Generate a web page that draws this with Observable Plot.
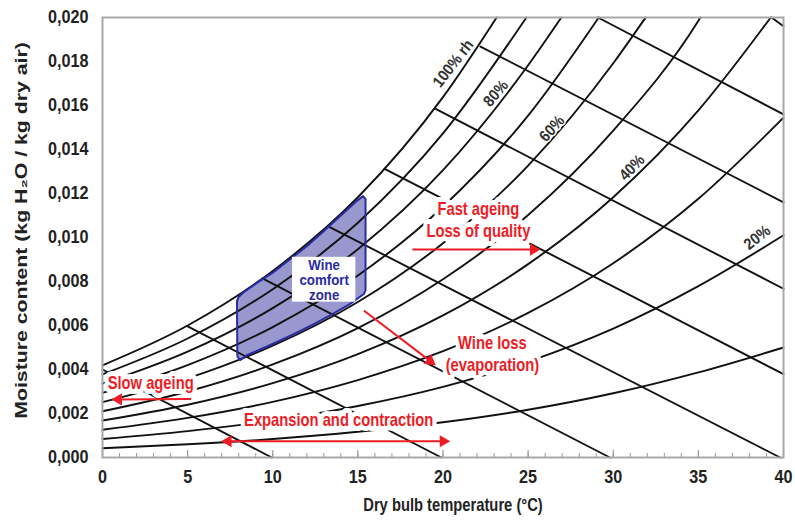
<!DOCTYPE html>
<html><head><meta charset="utf-8">
<script src="https://cdn.jsdelivr.net/npm/d3@7"></script>
<script src="https://cdn.jsdelivr.net/npm/@observablehq/plot@0.6"></script>
<style>
body{margin:0;background:#fff;}
</style></head><body><div id="chart"></div>
<script>
// ---------- data ----------
const xTicks = [0, 5, 10, 15, 20, 25, 30, 35, 40];
const yTicks = [0, 0.002, 0.004, 0.006, 0.008, 0.010, 0.012, 0.014, 0.016, 0.018, 0.020];
const xTitle = "Dry bulb temperature (°C)";
const yTitle = "Moisture content (kg H₂O / kg dry air)";

// relative humidity curves: [temperature °C, moisture kg/kg]
const rhLevels = [100, 90, 80, 70, 60, 50, 40, 30, 20, 10];
const rh100 = [[0,0.00419],[5,0.00600],[10,0.00848],[15,0.01183],[20,0.01638],[23.15,0.0200]];
const rh90  = [[0,0.00378],[5,0.00541],[10,0.00765],[15,0.01067],[20,0.01473],[24.9,0.0200]];
const rh80  = [[0,0.00336],[5,0.00481],[10,0.00679],[15,0.00947],[20,0.01306],[25,0.01783],[26.95,0.0200]];
const rh70  = [[0,0.00294],[5,0.00420],[10,0.00593],[15,0.00827],[20,0.01140],[25,0.01554],[29.15,0.0200]];
const rh60  = [[0,0.00252],[5,0.00360],[10,0.00508],[15,0.00707],[20,0.00974],[25,0.01327],[30,0.01792],[31.9,0.0200]];
const rh50  = [[0,0.00210],[5,0.00300],[10,0.00423],[15,0.00588],[20,0.00810],[25,0.01102],[30,0.01486],[35,0.01985],[35.12,0.0200]];
const rh40  = [[0,0.00168],[5,0.00240],[10,0.00338],[15,0.00470],[20,0.00646],[25,0.00879],[30,0.01183],[35,0.01578],[39.25,0.0200]];
const rh30  = [[0,0.00126],[5,0.00180],[10,0.00253],[15,0.00352],[20,0.00483],[25,0.00657],[30,0.00883],[35,0.01176],[40,0.01545]];
const rh20  = [[0,0.00084],[5,0.00120],[10,0.00168],[15,0.00234],[20,0.00321],[25,0.00436],[30,0.00586],[35,0.00779],[40,0.01010]];
const rh10  = [[0,0.00042],[5,0.00060],[10,0.00084],[15,0.00117],[20,0.00160],[25,0.00217],[30,0.00292],[35,0.00387],[40,0.00500]];

// enthalpy lines (start on saturation / top edge, end on bottom / right edge)
const enth10 = [[0,0.00400],[9.94,0]];
const enth20 = [[4.95,0.00598],[19.9,0]];
const enth30 = [[9.39,0.00814],[29.8,0]];
const enth40 = [[13.23,0.01052],[39.8,0]];
const enth50 = [[16.57,0.01312],[40,0.00379]];
const enth60 = [[19.51,0.01587],[40,0.00767]];
const enth70 = [[22.2,0.01868],[40,0.01160]];
const enth80 = [[29.1,0.0200],[40,0.01560]];
const enth90 = [[39.3,0.0200],[40,0.01960]];

// wine comfort zone outline
const zone = [[7.9,0.00710],[7.98,0.00728],[8.3,0.00752],[9,0.00790],[10,0.00840],[11,0.00900],[12,0.00960],[13,0.01030],[14,0.01100],[15,0.01170],[15.3,0.01188],[15.45,0.01175],[15.45,0.00760],[15.35,0.00743],[14.5,0.00696],[13.5,0.00652],[12.5,0.00610],[11.5,0.00571],[10.5,0.00534],[9.5,0.00499],[8.5,0.00466],[8.1,0.00443],[7.92,0.00460]];

// RH labels
const rhLabelText = ["100% rh", "80%", "60%", "40%", "20%"];
const rhLabelT = [20.6, 23.1, 26.4, 31.1, 38.45];
const rhLabelW = [0.01791, 0.01655, 0.01495, 0.01318, 0.01000];

// red annotations
const noteText = ["Fast ageing\nLoss of quality", "Wine loss\n(evaporation)", "Slow ageing", "Expansion and contraction"];
const noteT = [22.08, 22.9, 2.83, 13.87];
const noteW = [0.01085, 0.00473, 0.00345, 0.00175];

// comfort-zone label and its white box
const zoneText = ["Wine\ncomfort\nzone"];
const zoneT = [13.02];
const zoneW = [0.00806];
const zoneBoxT = [11.16, 14.88];
const zoneBoxW = [0.00706, 0.00910];

// arrows: start and tip
const arrowStart = [[18.2,0.00945],[15.35,0.00668],[5.2,0.00266],[13.6,0.00074],[13.6,0.00074]];
const arrowTip   = [[25.55,0.00945],[19.44,0.00427],[0.7,0.00264],[20.25,0.00074],[7.14,0.00074]];

// ---------- build ----------
const W = 795, H = 521, mL = 102, mR = 12, mT = 17, mB = 64;
const kx = (W - mL - mR) / 40, ky = (H - mT - mB) / 0.02;
const FONT = "'Liberation Sans', Arial, sans-serif";
const RED = "#ee1c25";
const BLUE = "#2b2ba3";

const rhCurves = [rh100, rh90, rh80, rh70, rh60, rh50, rh40, rh30, rh20, rh10];
const rhRows = rhCurves.flatMap((c, i) => c.map(([t, w]) => ({t, w, k: rhLevels[i]})));
const enthCurves = [enth10, enth20, enth30, enth40, enth50, enth60, enth70, enth80, enth90];
const enthRows = enthCurves.flatMap((c, i) => c.map(([t, w]) => ({t, w, k: i})));
const zoneRows = zone.map(([t, w]) => ({t, w}));
const rhLab = rhLabelText.map((s, i) => ({s, t: rhLabelT[i], w: rhLabelW[i]}));
const rhAngles = [-52, -49, -48, -46, -38];
const notes = noteText.map((s, i) => ({s, t: noteT[i], w: noteW[i]}));
const zoneLab = zoneText.map((s, i) => ({s, t: zoneT[i], w: zoneW[i]}));
const zoneBox = [{x1: zoneBoxT[0], x2: zoneBoxT[1], y1: zoneBoxW[0], y2: zoneBoxW[1]}];
const arrows = arrowStart.map((a, i) => {
  const b = arrowTip[i];
  const dxp = (b[0] - a[0]) * kx, dyp = -(b[1] - a[1]) * ky;
  const len = Math.hypot(dxp, dyp), ux = dxp / len, uy = dyp / len;
  const back = 4;
  return {x1: a[0], y1: a[1], x2: b[0], y2: b[1],
    cx: b[0] - ux * back / kx, cy: b[1] + uy * back / ky,
    rot: Math.atan2(dyp, dxp) * 180 / Math.PI + 90};
});

const chart = Plot.plot({
  width: W, height: H, marginLeft: mL, marginRight: mR, marginTop: mT, marginBottom: mB,
  style: {fontFamily: FONT, fontSize: "18px", fontWeight: "bold", color: "#222", background: "white"},
  x: {domain: [0, 40]},
  y: {domain: [0, 0.02]},
  marks: [
    Plot.line(zoneRows, {x: "t", y: "w", fill: "#9898cf", stroke: "none", curve: "linear-closed"}),
    Plot.line(rhRows, {x: "t", y: "w", z: "k", stroke: "#111", strokeWidth: 1.9, curve: "monotone-x"}),
    Plot.line(enthRows, {x: "t", y: "w", z: "k", stroke: "#111", strokeWidth: 1.9}),
    Plot.line(zoneRows, {x: "t", y: "w", fill: "none", stroke: BLUE, strokeWidth: 2, curve: "linear-closed", strokeLinejoin: "round"}),
    Plot.ruleX(d3.range(0, 41, 1), {x: d => d, stroke: "#9a9a9a", strokeWidth: 1, insetTop: H - mT - mB - 4}),
    Plot.ruleX(xTicks, {x: d => d, stroke: "#9a9a9a", strokeWidth: 1.2, insetTop: H - mT - mB - 7}),
    Plot.frame({stroke: "#a8a8a8", strokeWidth: 2}),
    Plot.axisX({ticks: xTicks, tickSize: 0, tickPadding: 13, label: null, tickFormat: d => String(d)}),
    Plot.axisY({ticks: yTicks, tickSize: 0, tickPadding: 14, label: null, tickFormat: d => d.toFixed(3).replace(".", ",")}),
    Plot.text([xTitle], {frameAnchor: "bottom", text: d => d, dy: 48, dx: 10, fontSize: 18, textAnchor: "middle", lineAnchor: "middle"}),
    Plot.text([yTitle], {frameAnchor: "left", text: d => d, rotate: -90, dx: -81, dy: -7, fontSize: 17, textAnchor: "middle", lineAnchor: "middle"}),
    Plot.text(rhLab, {x: "t", y: "w", text: "s", rotate: (d, i) => rhAngles[i], fill: "#333", fontSize: 16, stroke: "white", strokeWidth: 3}),
    Plot.text(notes, {x: "t", y: "w", text: "s", fill: RED, fontSize: 18, lineHeight: 1.22, stroke: "white", strokeWidth: 10, strokeLinejoin: "round"}),
    Plot.rect(zoneBox, {x1: "x1", x2: "x2", y1: "y1", y2: "y2", fill: "white"}),
    Plot.text(zoneLab, {x: "t", y: "w", text: "s", fill: BLUE, fontSize: 14, lineHeight: 1.05}),
    Plot.link(arrows, {x1: "x1", y1: "y1", x2: "cx", y2: "cy", stroke: RED, strokeWidth: 2}),
    Plot.dot(arrows, {x: "cx", y: "cy", symbol: "triangle", r: 4.5, fill: RED, stroke: "none", rotate: "rot"})
  ]
});
document.getElementById("chart").appendChild(chart);

// emulate the condensed typeface of the original: squeeze text along its baseline
function squeeze(el, sx) {
  const tr = el.getAttribute("transform");
  if (tr) { el.setAttribute("transform", tr + ` scale(${sx},1)`); return; }
  const x = +(el.getAttribute("x") || 0), y = +(el.getAttribute("y") || 0);
  el.removeAttribute("x"); el.removeAttribute("y");
  el.querySelectorAll("tspan").forEach(ts => { if (ts.getAttribute("x") != null) ts.setAttribute("x", 0); });
  el.setAttribute("transform", `translate(${x},${y}) scale(${sx},1)`);
}
chart.querySelectorAll('g[aria-label="text"] text').forEach(el => {
  if (el.textContent === yTitle) squeeze(el, 1.25);
  else if (rhLabelText.includes(el.textContent)) squeeze(el, 0.9);
  else if (el.textContent.startsWith("Wine") && el.textContent.includes("comfort")) squeeze(el, 0.95);
  else squeeze(el, 0.82);
});
chart.querySelectorAll('g[aria-label$="tick label"] text').forEach(el => squeeze(el, 0.9));
</script></body></html>
